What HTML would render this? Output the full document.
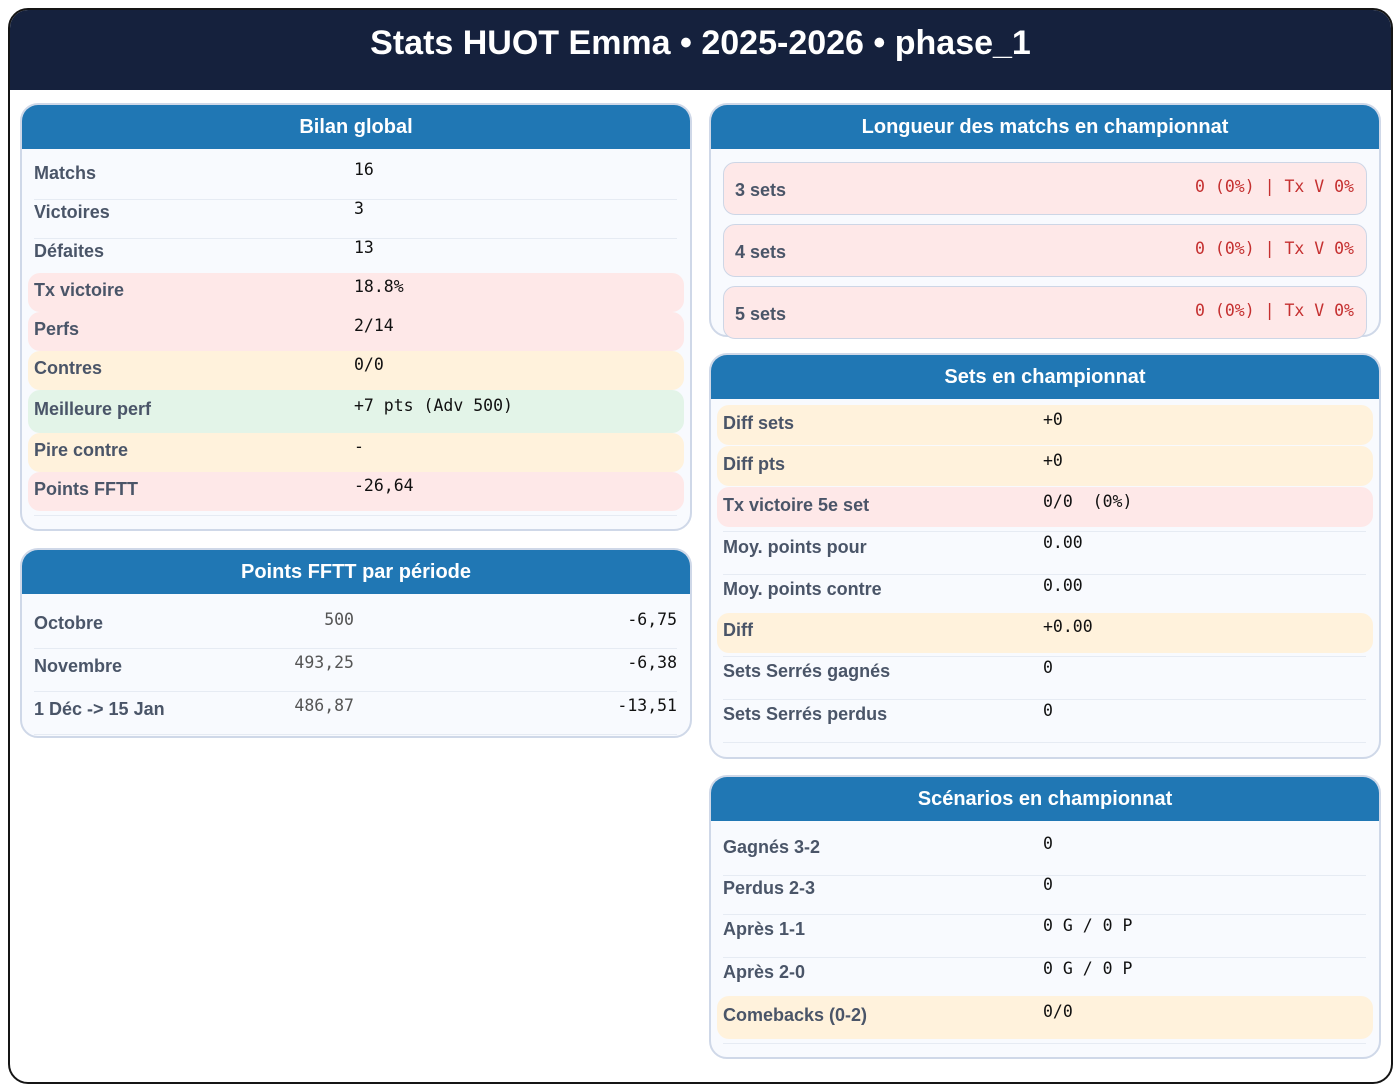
<!DOCTYPE html>
<html><head><meta charset="utf-8"><style>
*{margin:0;padding:0;box-sizing:border-box}
body{width:1400px;height:1091px;background:#fff;position:relative;overflow:hidden;font-family:"Liberation Sans",sans-serif}
.a{position:absolute}
.frame{left:8px;top:8px;width:1385px;height:1076px;border:2px solid #151515;border-radius:20px;overflow:hidden}
.top{left:0;top:0;width:100%;height:80px;background:#15213d}
.title{left:0;top:13px;width:100%;text-align:center;color:#fff;font-weight:bold;font-size:34px;line-height:40px}
.panel{background:#f8fafe;border:2px solid #cfd8e8;border-radius:18px;overflow:visible}
.ph{background:#2077b4;border-radius:16px 16px 0 0;color:#fff;font-weight:bold;font-size:20px;text-align:center;line-height:44px;height:44px}
.lb{color:#4a5568;font-weight:bold;font-size:18px;line-height:20px;height:20px;white-space:nowrap}
.v{font-family:"DejaVu Sans Mono","Liberation Mono",monospace;font-size:16.5px;color:#111;line-height:20px;height:20px;white-space:pre}
.hl{border-radius:12px}
.pk{background:#fee8e8}.cr{background:#fff2dc}.gr{background:#e3f4e8}
.sep{height:1px;background:#e6ebf3}
.box{background:#fee8e8;border:1px solid #cdd6e6;border-radius:12px}
.red{color:#c53030}
</style></head><body>
<div class="a frame"><div class="a top"></div><div class="a title">Stats HUOT Emma • 2025-2026 • phase_1</div></div>

<div class="a panel" style="left:20px;top:103px;width:672px;height:428px"><div class="ph">Bilan global</div></div>
<div class="a hl pk" style="left:28px;top:273px;width:656px;height:39px"></div>
<div class="a hl pk" style="left:28px;top:312px;width:656px;height:39px"></div>
<div class="a hl cr" style="left:28px;top:351px;width:656px;height:39px"></div>
<div class="a hl gr" style="left:28px;top:390px;width:656px;height:43px"></div>
<div class="a hl cr" style="left:28px;top:433px;width:656px;height:39px"></div>
<div class="a hl pk" style="left:28px;top:472px;width:656px;height:39px"></div>
<div class="a sep" style="left:34px;top:199px;width:643px"></div>
<div class="a sep" style="left:34px;top:238px;width:643px"></div>
<div class="a sep" style="left:34px;top:515px;width:643px"></div>
<div class="a lb" style="left:34px;top:163px">Matchs</div><div class="a v" style="left:354px;top:160px">16</div>
<div class="a lb" style="left:34px;top:202px">Victoires</div><div class="a v" style="left:354px;top:199px">3</div>
<div class="a lb" style="left:34px;top:241px">Défaites</div><div class="a v" style="left:354px;top:238px">13</div>
<div class="a lb" style="left:34px;top:280px">Tx victoire</div><div class="a v" style="left:354px;top:277px">18.8%</div>
<div class="a lb" style="left:34px;top:319px">Perfs</div><div class="a v" style="left:354px;top:316px">2/14</div>
<div class="a lb" style="left:34px;top:358px">Contres</div><div class="a v" style="left:354px;top:355px">0/0</div>
<div class="a lb" style="left:34px;top:399px">Meilleure perf</div><div class="a v" style="left:354px;top:396px">+7 pts (Adv 500)</div>
<div class="a lb" style="left:34px;top:440px">Pire contre</div><div class="a v" style="left:354px;top:437px">-</div>
<div class="a lb" style="left:34px;top:479px">Points FFTT</div><div class="a v" style="left:354px;top:476px">-26,64</div>

<div class="a panel" style="left:20px;top:548px;width:672px;height:190px"><div class="ph">Points FFTT par période</div></div>
<div class="a sep" style="left:34px;top:648px;width:643px"></div>
<div class="a sep" style="left:34px;top:691px;width:643px"></div>
<div class="a sep" style="left:34px;top:734px;width:643px"></div>
<div class="a lb" style="left:34px;top:613px">Octobre</div><div class="a v" style="left:200px;width:154px;text-align:right;top:610px;color:#555">500</div><div class="a v" style="left:500px;width:177px;text-align:right;top:610px">-6,75</div>
<div class="a lb" style="left:34px;top:656px">Novembre</div><div class="a v" style="left:200px;width:154px;text-align:right;top:653px;color:#555">493,25</div><div class="a v" style="left:500px;width:177px;text-align:right;top:653px">-6,38</div>
<div class="a lb" style="left:34px;top:699px">1 Déc -&gt; 15 Jan</div><div class="a v" style="left:200px;width:154px;text-align:right;top:696px;color:#555">486,87</div><div class="a v" style="left:500px;width:177px;text-align:right;top:696px">-13,51</div>

<div class="a panel" style="left:709px;top:103px;width:672px;height:234px"><div class="ph">Longueur des matchs en championnat</div></div>
<div class="a box" style="left:723px;top:162px;width:644px;height:53px"></div>
<div class="a box" style="left:723px;top:224px;width:644px;height:53px"></div>
<div class="a box" style="left:723px;top:286px;width:644px;height:53px"></div>
<div class="a lb" style="left:735px;top:180px">3 sets</div><div class="a v red" style="left:1000px;width:354px;text-align:right;top:177px">0 (0%) | Tx V 0%</div>
<div class="a lb" style="left:735px;top:242px">4 sets</div><div class="a v red" style="left:1000px;width:354px;text-align:right;top:239px">0 (0%) | Tx V 0%</div>
<div class="a lb" style="left:735px;top:304px">5 sets</div><div class="a v red" style="left:1000px;width:354px;text-align:right;top:301px">0 (0%) | Tx V 0%</div>

<div class="a panel" style="left:709px;top:353px;width:672px;height:406px"><div class="ph">Sets en championnat</div></div>
<div class="a hl cr" style="left:717px;top:405px;width:656px;height:40px"></div>
<div class="a hl cr" style="left:717px;top:446px;width:656px;height:40px"></div>
<div class="a hl pk" style="left:717px;top:487px;width:656px;height:40px"></div>
<div class="a hl cr" style="left:717px;top:613px;width:656px;height:40px"></div>
<div class="a sep" style="left:723px;top:531px;width:643px"></div>
<div class="a sep" style="left:723px;top:574px;width:643px"></div>
<div class="a sep" style="left:723px;top:656px;width:643px"></div>
<div class="a sep" style="left:723px;top:699px;width:643px"></div>
<div class="a sep" style="left:723px;top:742px;width:643px"></div>
<div class="a lb" style="left:723px;top:413px">Diff sets</div><div class="a v" style="left:1043px;top:410px">+0</div>
<div class="a lb" style="left:723px;top:454px">Diff pts</div><div class="a v" style="left:1043px;top:451px">+0</div>
<div class="a lb" style="left:723px;top:495px">Tx victoire 5e set</div><div class="a v" style="left:1043px;top:492px">0/0  (0%)</div>
<div class="a lb" style="left:723px;top:537px">Moy. points pour</div><div class="a v" style="left:1043px;top:533px">0.00</div>
<div class="a lb" style="left:723px;top:579px">Moy. points contre</div><div class="a v" style="left:1043px;top:576px">0.00</div>
<div class="a lb" style="left:723px;top:620px">Diff</div><div class="a v" style="left:1043px;top:617px">+0.00</div>
<div class="a lb" style="left:723px;top:661px">Sets Serrés gagnés</div><div class="a v" style="left:1043px;top:658px">0</div>
<div class="a lb" style="left:723px;top:704px">Sets Serrés perdus</div><div class="a v" style="left:1043px;top:701px">0</div>

<div class="a panel" style="left:709px;top:775px;width:672px;height:284px"><div class="ph">Scénarios en championnat</div></div>
<div class="a hl cr" style="left:717px;top:996px;width:656px;height:43px"></div>
<div class="a sep" style="left:723px;top:875px;width:643px"></div>
<div class="a sep" style="left:723px;top:914px;width:643px"></div>
<div class="a sep" style="left:723px;top:957px;width:643px"></div>
<div class="a sep" style="left:723px;top:1043px;width:643px"></div>
<div class="a lb" style="left:723px;top:837px">Gagnés 3-2</div><div class="a v" style="left:1043px;top:834px">0</div>
<div class="a lb" style="left:723px;top:878px">Perdus 2-3</div><div class="a v" style="left:1043px;top:875px">0</div>
<div class="a lb" style="left:723px;top:919px">Après 1-1</div><div class="a v" style="left:1043px;top:916px">0 G / 0 P</div>
<div class="a lb" style="left:723px;top:962px">Après 2-0</div><div class="a v" style="left:1043px;top:959px">0 G / 0 P</div>
<div class="a lb" style="left:723px;top:1005px">Comebacks (0-2)</div><div class="a v" style="left:1043px;top:1002px">0/0</div>
</body></html>
